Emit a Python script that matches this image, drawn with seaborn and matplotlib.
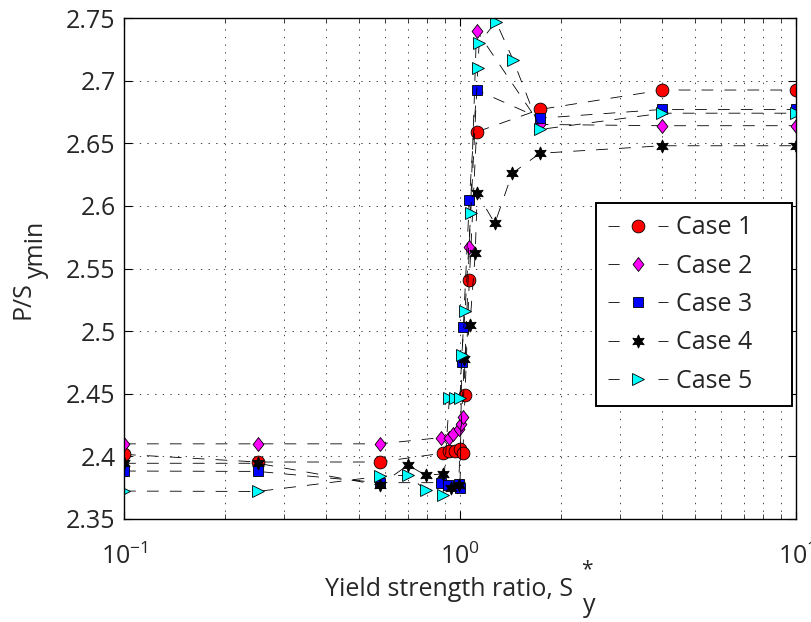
import matplotlib
matplotlib.use("Agg")
import matplotlib.pyplot as plt
import seaborn as sns
import pandas as pd
from matplotlib.ticker import FixedLocator, FuncFormatter, LogLocator, NullFormatter

# ---- data -------------------------------------------------------------
case_names = ["Case 1", "Case 2", "Case 3", "Case 4", "Case 5"]

case1_x = [0.1, 0.25, 0.577, 0.89, 0.93, 0.966, 1.0, 1.02, 1.035, 1.066, 1.12, 1.73, 4.0, 10.0]
case1_y = [2.4016, 2.3955, 2.3955, 2.4026, 2.404, 2.4045, 2.4055, 2.4026, 2.449, 2.541, 2.659,
           2.677, 2.6925, 2.6925]

case2_x = [0.1, 0.25, 0.577, 0.88, 0.93, 0.955, 0.99, 1.01, 1.02, 1.066, 1.12, 1.73, 4.0, 10.0]
case2_y = [2.410, 2.410, 2.410, 2.415, 2.415, 2.418, 2.422, 2.426, 2.4315, 2.567, 2.740,
           2.665, 2.664, 2.664]

case3_x = [0.1, 0.25, 0.577, 0.88, 0.92, 0.99, 1.0, 1.012, 1.023, 1.066, 1.12, 1.73, 4.0, 10.0]
case3_y = [2.3883, 2.388, 2.379, 2.379, 2.377, 2.378, 2.375, 2.475, 2.503, 2.605, 2.6925,
           2.670, 2.677, 2.677]

case4_x = [0.1, 0.25, 0.577, 0.7, 0.79, 0.89, 0.94, 0.99, 1.03, 1.07, 1.11, 1.125, 1.27,
           1.43, 1.73, 4.0, 10.0]
case4_y = [2.3945, 2.3945, 2.377, 2.393, 2.385, 2.386, 2.375, 2.377, 2.478, 2.5047, 2.562,
           2.610, 2.586, 2.626, 2.642, 2.648, 2.648]

case5_x = [0.1, 0.25, 0.577, 0.7, 0.79, 0.89, 0.93, 0.966, 1.0, 1.012, 1.035, 1.076, 1.13,
           1.14, 1.28, 1.44, 1.73, 4.0, 10.0]
case5_y = [2.3723, 2.372, 2.384, 2.385, 2.373, 2.369, 2.447, 2.447, 2.447, 2.481, 2.516,
           2.594, 2.7098, 2.730, 2.747, 2.7164, 2.661, 2.674, 2.674]

y_ticks = [2.35, 2.4, 2.45, 2.5, 2.55, 2.6, 2.65, 2.7, 2.75]

# ---- style ------------------------------------------------------------
sns.set_theme(style="ticks")
FONT = "Open Sans"
plt.rcParams["font.family"] = [FONT, "DejaVu Sans"]
plt.rcParams["mathtext.fontset"] = "custom"
plt.rcParams["mathtext.rm"] = FONT
plt.rcParams["mathtext.it"] = FONT
plt.rcParams["mathtext.default"] = "regular"
plt.rcParams["lines.scale_dashes"] = False

FS = 18
TXT = "#262626"

series = [
    (case1_x, case1_y, "o", "#ff0000", 9.2),
    (case2_x, case2_y, [(0, 1), (0.78, 0), (0, -1), (-0.78, 0), (0, 1)], "#ff00ff", 10.0),
    (case3_x, case3_y, "s", "#0000ff", 7.0),
    (case4_x, case4_y, (6, 1, 0), "#000000", 9.5),
    (case5_x, case5_y, ">", "#00ffff", 9.0),
]

fig = plt.figure(figsize=(8.12, 6.22), dpi=100)
ax = fig.add_axes([124 / 812, 1 - 519 / 622, 672 / 812, 501 / 622])

dash_pattern = (8.5, 8.0)
for name, (xs, ys, mk, fc, ms) in zip(case_names, series):
    df = pd.DataFrame({"x": xs, "y": ys})
    sns.lineplot(data=df, x="x", y="y", ax=ax, sort=False, estimator=None,
                 color="black", linewidth=0.6, dashes=False,
                 marker=mk, markersize=ms, markerfacecolor=fc,
                 markeredgecolor="black", markeredgewidth=0.6,
                 label=name)
for ln in ax.get_lines():
    ln.set_dashes(dash_pattern)

# ---- axes -------------------------------------------------------------
ax.set_xscale("log")
ax.set_xlim(0.1, 10)
ax.set_ylim(2.35, 2.75)
ax.yaxis.set_major_locator(FixedLocator(y_ticks))
ax.yaxis.set_major_formatter(FuncFormatter(lambda v, p: f"{v:g}"))
ax.xaxis.set_major_locator(LogLocator(base=10, numticks=10))
ax.xaxis.set_minor_locator(LogLocator(base=10, subs=range(2, 10), numticks=20))
ax.xaxis.set_minor_formatter(NullFormatter())

grid_kw = dict(color="#444444", linestyle=(0, (1, 4.5)), linewidth=0.7)
ax.grid(True, which="major", axis="both", **grid_kw)
ax.grid(True, which="minor", axis="x", **grid_kw)

ax.tick_params(axis="both", which="major", direction="in", length=6, width=0.8,
               top=True, right=True, labelsize=FS, pad=6, colors="black",
               labelcolor=TXT)
ax.tick_params(axis="both", which="minor", direction="in", length=3.5, width=0.6,
               top=True, right=True)
ax.tick_params(axis="x", which="major", pad=18)
for sp in ax.spines.values():
    sp.set_visible(True)
    sp.set_linewidth(1.0)
    sp.set_color("black")

# axis labels, with the S*_y and S_ymin decorations set as separate pieces
ax.set_xlabel("Yield strength ratio, S", fontsize=FS, color=TXT)
ax.xaxis.set_label_coords((449 - 124) / 672, (519 - 577) / 501)
ax.annotate("*", xy=(1, 0.5), xycoords=ax.xaxis.label, xytext=(14, 20),
            textcoords="offset pixels", ha="center", va="center", fontsize=FS - 3, color=TXT)
ax.annotate("y", xy=(1, 0.5), xycoords=ax.xaxis.label, xytext=(16, -16),
            textcoords="offset pixels", ha="center", va="center", fontsize=FS, color=TXT)

ax.set_ylabel("P/S", fontsize=FS, color=TXT)
ax.yaxis.set_label_coords((36 - 124) / 672, (519 - 300) / 501)
ax.annotate("ymin", xy=(0.5, 1), xycoords=ax.yaxis.label, xytext=(13, 3),
            textcoords="offset pixels", ha="center", va="bottom", rotation=90,
            fontsize=FS, color=TXT)

leg = ax.legend(loc="upper left",
                bbox_to_anchor=((596 - 124) / 672, 0.2335, (792 - 596) / 672, (519 - 203) / 501 - 0.2335),
                mode="expand", fontsize=FS,
                frameon=True, fancybox=False, edgecolor="black", framealpha=1,
                handlelength=2.4, handletextpad=0.3, labelspacing=0.53,
                borderpad=0.5, borderaxespad=0)
leg.get_frame().set_linewidth(1.4)
for h in leg.get_lines():
    h.set_dashes((8, 28))
for t in leg.get_texts():
    t.set_color(TXT)

fig.savefig("out.png", dpi=100)
